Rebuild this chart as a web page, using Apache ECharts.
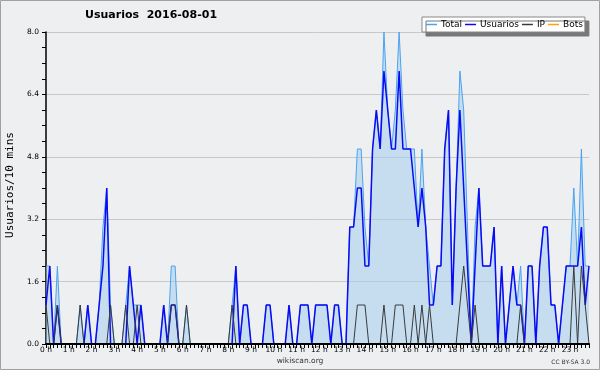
<!DOCTYPE html>
<html><head><meta charset="utf-8">
<script src="https://cdn.jsdelivr.net/npm/echarts@6/dist/echarts.min.js"></script>
<style>html,body{margin:0;padding:0;background:#eeeff1}#c{width:600px;height:370px}</style>
</head><body><div id="c"></div>
<script>
const hourLabels = ['0 h','1 h','2 h','3 h','4 h','5 h','6 h','7 h','8 h','9 h','10 h','11 h','12 h','13 h','14 h','15 h','16 h','17 h','18 h','19 h','20 h','21 h','22 h','23 h'];
const times = [];
for (let i = 0; i < 144; i++) { times.push(Math.floor(i / 6) + ':' + String((i % 6) * 10).padStart(2, '0')); }

const total = [
  2,2,0,2,0,0,0,0,0,1, 0,1,0,0,1,3,4,1,0,0,
  0,1,2,1,1,1,0,0,0,0, 0,1,0,2,2,0,0,1,0,0,
  0,0,0,0,0,0,0,0,0,1, 2,0,1,1,0,0,0,0,1,1,
  0,0,0,0,1,0,0,1,1,1, 0,1,1,1,1,0,1,1,0,0,
  3,3,5,5,3,2,5,6,5,8, 6,5,6,8,6,5,5,5,3,5,
  3,2,1,2,2,5,6,1,4,7, 6,3,0,3,4,2,2,2,3,0,
  2,0,1,2,1,2,0,2,2,0, 2,3,3,1,1,0,1,2,2,4,
  2,5,2,2
];
const usuarios = [
  1,2,0,1,0,0,0,0,0,0, 0,1,0,0,1,2,4,0,0,0,
  0,0,2,1,0,1,0,0,0,0, 0,1,0,1,1,0,0,0,0,0,
  0,0,0,0,0,0,0,0,0,0, 2,0,1,1,0,0,0,0,1,1,
  0,0,0,0,1,0,0,1,1,1, 0,1,1,1,1,0,1,1,0,0,
  3,3,4,4,2,2,5,6,5,7, 6,5,5,7,5,5,5,4,3,4,
  3,1,1,2,2,5,6,1,4,6, 4,2,0,2,4,2,2,2,3,0,
  2,0,1,2,1,1,0,2,2,0, 2,3,3,1,1,0,1,2,2,2,
  2,3,1,2
];
const ip = [
  1,0,0,1,0,0,0,0,0,1, 0,0,0,0,0,0,0,1,0,0,
  0,1,0,0,1,0,0,0,0,0, 0,0,0,1,1,0,0,1,0,0,
  0,0,0,0,0,0,0,0,0,1, 0,0,0,0,0,0,0,0,0,0,
  0,0,0,0,0,0,0,0,0,0, 0,0,0,0,0,0,0,0,0,0,
  0,0,1,1,1,0,0,0,0,1, 0,0,1,1,1,0,0,1,0,1,
  0,1,0,0,0,0,0,0,0,1, 2,1,0,1,0,0,0,0,0,0,
  0,0,0,0,0,1,0,0,0,0, 0,0,0,0,0,0,0,0,0,2,
  0,2,1,0
];
const bots = [
  0,0,0,0,0,0,0,0,0,0, 0,0,0,0,0,0,0,0,0,0,
  0,0,0,0,0,0,0,0,0,0, 0,0,0,0,0,0,0,0,0,0,
  0,0,0,0,0,0,0,0,0,0, 0,0,0,0,0,0,0,0,0,0,
  0,0,0,0,0,0,0,0,0,0, 0,0,0,0,0,0,0,0,0,0,
  0,0,0,0,0,0,0,0,0,0, 0,0,0,0,0,0,0,0,0,0,
  0,0,0,0,0,0,0,0,0,0, 0,0,0,0,0,0,0,0,0,0,
  0,0,0,0,0,0,0,0,0,0, 0,0,0,0,0,0,0,0,0,0,
  0,0,0,0
];
const seriesNames = ['Total', 'Usuarios', 'IP', 'Bots'];
const titleText = 'Usuarios  2016-08-01';
const yName = 'Usuarios/10 mins';

const chart = echarts.init(document.getElementById('c'), null, {renderer: 'canvas'});
const F = 'DejaVu Sans';
chart.setOption({
  backgroundColor: '#eeeff1',
  animation: false,
  title: {text: titleText, left: 85, top: 10, padding: 0,
    textStyle: {fontFamily: F, fontWeight: 'bold', fontSize: 11, color: '#000'}},
  legend: {
    data: seriesNames, left: 422, top: 17, padding: [3, 2, 3, 4], itemGap: 3,
    icon: 'rect', itemWidth: 11, itemHeight: 1.5,
    backgroundColor: '#ffffff', borderColor: '#888', borderWidth: 1,
    shadowColor: '#777', shadowOffsetX: 4, shadowOffsetY: 4, shadowBlur: 0,
    textStyle: {fontFamily: F, fontSize: 9, color: '#000', padding: [0, 0, 0, -1]}
  },
  grid: {left: 46, right: 11, top: 32, bottom: 26, containLabel: false},
  xAxis: {
    type: 'category', data: times, boundaryGap: false, z: 5,
    axisLine: {lineStyle: {color: '#000', width: 2}},
    axisTick: {show: true, interval: 0, length: 4, lineStyle: {color: '#000'}},
    axisLabel: {interval: (i) => i % 6 === 0, formatter: (v, i) => hourLabels[Math.floor(i / 6)],
      fontFamily: F, fontSize: 7.5, color: '#000', margin: 2},
    splitLine: {show: false}
  },
  yAxis: {
    type: 'value', min: 0, max: 8, interval: 1.6,
    axisLine: {show: true, lineStyle: {color: '#000', width: 1.5}},
    axisTick: {show: true, length: 4, lineStyle: {color: '#000'}},
    minorTick: {show: true, splitNumber: 4, length: 4, lineStyle: {color: '#000'}},
    axisLabel: {formatter: (v) => v.toFixed(1), fontFamily: F, fontSize: 7.5, color: '#000', margin: 7},
    splitLine: {show: true, lineStyle: {color: '#c8c8c8', width: 1}}
  },
  graphic: [
    {type: 'rect', shape: {x: 0.5, y: 0.5, width: 599, height: 369}, style: {fill: 'none', stroke: '#a0a0a0', lineWidth: 1}, z: 100},
    {type: 'text', x: 10, y: 185, rotation: Math.PI / 2, style: {text: yName, font: '11px "DejaVu Sans Mono"', fill: '#000', textAlign: 'center', textVerticalAlign: 'middle'}},
    {type: 'text', x: 300, y: 361, style: {text: 'wikiscan.org', font: '7.5px "DejaVu Sans"', fill: '#333', textAlign: 'center', textVerticalAlign: 'middle'}},
    {type: 'text', x: 590, y: 362, style: {text: 'CC BY-SA 3.0', font: '6px "DejaVu Sans"', fill: '#333', textAlign: 'right', textVerticalAlign: 'middle'}}
  ],
  series: [
    {name: 'Total', type: 'line', data: total, symbol: 'none', lineStyle: {color: '#4aa3f0', width: 1}, itemStyle: {color: '#4aa3f0'},
      areaStyle: {color: 'rgb(158,203,239)', opacity: 0.5}},
    {name: 'Usuarios', type: 'line', data: usuarios, symbol: 'none', lineStyle: {color: '#0a0af5', width: 1.5}, itemStyle: {color: '#0a0af5'}},
    {name: 'IP', type: 'line', data: ip, symbol: 'none', lineStyle: {color: '#3a3a3a', width: 1}, itemStyle: {color: '#3a3a3a'}},
    {name: 'Bots', type: 'line', data: bots, symbol: 'none', lineStyle: {color: '#ffa500', width: 1}, itemStyle: {color: '#ffa500'}}
  ]
});
</script></body></html>
